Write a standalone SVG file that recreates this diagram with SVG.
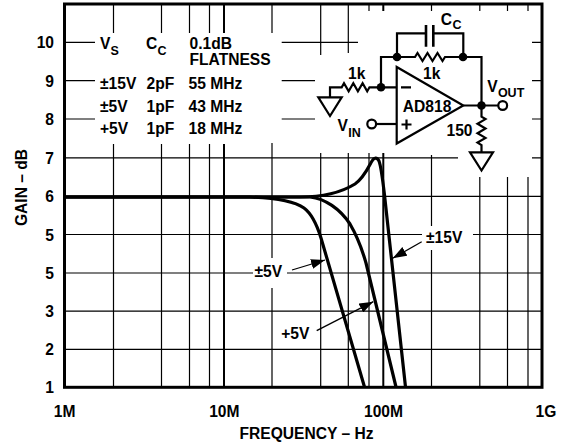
<svg xmlns="http://www.w3.org/2000/svg" width="565" height="446" viewBox="0 0 565 446">
<style>
text{font-family:"Liberation Sans",Arial,Helvetica,sans-serif;font-weight:bold;font-size:15.6px;fill:#000}
.sub{font-size:12.5px}
.g{stroke:#000;stroke-width:1.2;fill:none}
.gd{stroke:#000;stroke-width:2;fill:none}
.fr{stroke:#000;stroke-width:3;fill:none}
.cv{stroke:#000;stroke-width:3.2;fill:none;stroke-linejoin:round;stroke-linecap:butt}
.ar{stroke:#000;stroke-width:1.3;fill:none}
.w{stroke:#000;stroke-width:2.2;fill:none;stroke-linejoin:miter}
.dot{fill:#000}
.tri{stroke:#000;stroke-width:2.2;fill:#fff;stroke-linejoin:miter}
.term{stroke:#000;stroke-width:2.2;fill:#fff}
</style>
<defs>
<marker id="ah" viewBox="0 0 14 10" refX="14" refY="5" markerWidth="14" markerHeight="10" markerUnits="userSpaceOnUse" orient="auto">
<path d="M0,0 L14,5 L0,10 z" fill="#000"/>
</marker>
</defs>
<rect width="565" height="446" fill="#fff"/>
<g id="grid">
<path class="g" d="M113.5,4V33M113.5,144V387M161.5,4V33M161.5,144V387M189.5,4V33M189.5,144V387M209.5,4V33M209.5,144V387M272,4V33M272,143V258M272,288V387M320.7,4V55M320.7,153V387M348.3,4V53M348.3,153V387M369,4V11M369,153V387M431.5,4V11M431.5,155V226M431.5,250V387M479.8,4V11M479.8,177V387M507.5,4V11M507.5,177V387M528,4V11M528,177V387"/>
<path class="gd" d="M224,4V33M224,144V387M383.3,4V11M383.3,153V387"/>
<path class="g" d="M64,42.3H95M281.7,42.3H358M532,42.3H542M64,80.6H95M281.7,80.6H315M532,80.6H542M64,119H95M281.7,119H315M532,119H542M64,157.8H458M532,157.8H542M64,196.3H542M64,234.5H422M473,234.5H542M64,273H253M287,273H542M64,311.2H542M64,349.3H542"/>
<rect class="fr" x="64.5" y="4" width="477.5" height="383.3"/>
</g>
<g id="axes">
<g text-anchor="end">
<text x="54" y="48.3">10</text>
<text x="54" y="86.6">9</text>
<text x="54" y="125">8</text>
<text x="54" y="163.8">7</text>
<text x="54" y="202.3">6</text>
<text x="54" y="240.5">5</text>
<text x="54" y="279">5</text>
<text x="54" y="317.2">3</text>
<text x="54" y="355.3">2</text>
<text x="54" y="393.3">1</text>
</g>
<g text-anchor="middle">
<text x="64.7" y="416.7">1M</text>
<text x="224.3" y="416.7">10M</text>
<text x="383.5" y="416.7">100M</text>
<text x="546" y="416.7">1G</text>
<text x="306.5" y="439">FREQUENCY – Hz</text>
<text transform="translate(26.5,187.5) rotate(-90)">GAIN – dB</text>
</g>
</g>
<g id="table">
<text x="100" y="49">V</text><text class="sub" x="110.6" y="55">S</text>
<text x="146" y="49">C</text><text class="sub" x="157.6" y="55">C</text>
<text x="189.5" y="49">0.1dB</text>
<text x="189.5" y="65">FLATNESS</text>
<text x="100" y="89.3">±15V</text><text x="146.5" y="89.3">2pF</text><text x="188.5" y="89.3">55 MHz</text>
<text x="100" y="112.3">±5V</text><text x="146.5" y="112.3">1pF</text><text x="188.5" y="112.3">43 MHz</text>
<text x="100" y="134">+5V</text><text x="146.5" y="134">1pF</text><text x="188.5" y="134">18 MHz</text>
</g>
<g id="connectors">
<path id="curve-15v" class="cv" d="M65,197 L300,197 C322,197 342,192 355,184 C364,178 369,166 372,161 C374,157.5 377,157 379,161 C381,166 382.5,178 384.5,195 L405.5,387"/>
<path id="curve-p5v" class="cv" d="M65,197 L310,197 C325,198.5 340,209 350,224 C357,236 362,249 366,263 L396,387"/>
<path id="curve-pm5v" class="cv" d="M65,197 L250,197 C276,198 294,201 304,208 C312,214 317,225 321,238 L364.5,387"/>
<line class="ar" x1="292" y1="270" x2="325" y2="260" marker-end="url(#ah)"/>
<line class="ar" x1="316.7" y1="330.7" x2="373.3" y2="301.7" marker-end="url(#ah)"/>
<line class="ar" x1="421.7" y1="241.7" x2="392.7" y2="258.3" marker-end="url(#ah)"/>
</g>
<g id="label-pm5v"><text x="254.5" y="277">±5V</text></g>
<g id="label-p5v"><text x="281.2" y="339">+5V</text></g>
<g id="label-15v"><text x="426" y="243.3">±15V</text></g>
<g id="circuit">
<g id="opamp">
<polygon class="tri" points="396.7,67 396.7,143.5 463.3,105.5"/>
<path class="w" d="M401,87.3H411M401.5,124.5H411.5M406.5,119.5V129.5"/>
<text x="402.8" y="111.7">AD818</text>
</g>
<g id="wires">
<path class="w" d="M330,97.3V87.3H341.7L344,83.3L348.65,91.3L353.3,83.3L357.9,91.3L362.6,83.3L367.2,91.3L369.5,87.3H396.7"/>
<path class="w" d="M381,87.3V57H415L417.5,53L422.5,61L427.5,53L432.5,61L437.5,53L442.5,61L445,57H481.5V105.5"/>
<path class="w" d="M397,57V33.3H426M433.3,33.3H463.3V57"/>
<path class="w" style="stroke-width:2.6" d="M426,25V46.7M433.3,25V46.7"/>
<path class="w" d="M463.3,105.5H498"/>
<path class="w" d="M481.5,105.5V116.7L485.5,119.1L477.5,123.8L485.5,128.5L477.5,133.2L485.5,137.9L477.5,142.6L481.5,145V152.3"/>
<path class="w" d="M376.2,124H396.7"/>
</g>
<circle class="dot" cx="381" cy="87.3" r="4.3"/>
<circle class="dot" cx="397" cy="57" r="4.3"/>
<circle class="dot" cx="463" cy="57" r="4.3"/>
<circle class="dot" cx="481.5" cy="105.5" r="4.3"/>
<circle class="term" cx="502.7" cy="105.5" r="4.4"/>
<circle class="term" cx="371.7" cy="124" r="4.4"/>
<polygon class="tri" points="318.3,97.3 341.7,97.3 330,116"/>
<polygon class="tri" points="470,152.3 493,152.3 481.5,170.5"/>
<text x="356.7" y="78.5" text-anchor="middle">1k</text>
<text x="431.7" y="78.5" text-anchor="middle">1k</text>
<text x="440.8" y="24.5">C</text><text class="sub" x="452.4" y="29">C</text>
<text x="487.2" y="92">V</text><text class="sub" x="497.9" y="97">OUT</text>
<text x="337.5" y="130.5">V</text><text class="sub" x="348.2" y="137">IN</text>
<text x="472.5" y="135.5" text-anchor="end">150</text>
</g>
</svg>
